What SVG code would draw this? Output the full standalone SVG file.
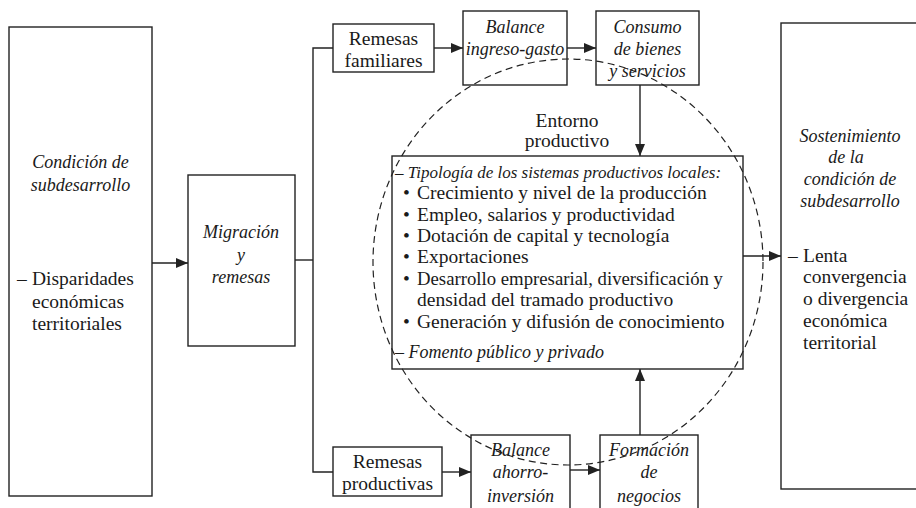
<svg xmlns="http://www.w3.org/2000/svg" width="916" height="508" viewBox="0 0 916 508">
<style>
.box{fill:#fff;stroke:#222;stroke-width:1.4}
text{font-family:'Liberation Serif','Times New Roman',serif;font-size:19.5px;fill:#1a1a1a}
.i{font-style:italic;font-size:18px}
.c{text-anchor:middle}
.ln{fill:none;stroke:#222;stroke-width:1.4}
.dash{fill:none;stroke:#222;stroke-width:1.2;stroke-dasharray:7 4.5}
</style>
<defs>
<marker id="ah" viewBox="0 0 12 10" refX="12" refY="5" markerWidth="12" markerHeight="10" markerUnits="userSpaceOnUse" orient="auto">
<path d="M0,0 L12,5 L0,10 Z" fill="#222"/>
</marker>
</defs>
<rect width="916" height="508" fill="#fff"/>

<g id="condicion">
<rect class="box" x="9" y="27" width="143" height="469"/>
<text class="i c" x="80.5" y="168">Condición de</text>
<text class="i c" x="80.5" y="191">subdesarrollo</text>
<text x="17" y="285">–</text>
<text x="32" y="285">Disparidades</text>
<text x="32" y="308">económicas</text>
<text x="32" y="330">territoriales</text>
</g>

<g id="migracion">
<rect class="box" x="188" y="175" width="107" height="171"/>
<text class="i c" x="241" y="238">Migración</text>
<text class="i c" x="241" y="261">y</text>
<text class="i c" x="241" y="283">remesas</text>
</g>

<g id="remesas-familiares">
<rect class="box" x="333" y="24" width="101" height="48"/>
<text class="c" x="383.5" y="45">Remesas</text>
<text class="c" x="383.5" y="67">familiares</text>
</g>

<g id="balance-ingreso">
<rect class="box" x="463" y="11" width="104" height="74"/>
<text class="i c" x="515" y="33">Balance</text>
<text class="i c" x="515" y="55">ingreso-gasto</text>
</g>

<g id="consumo">
<rect class="box" x="596" y="11" width="103" height="74"/>
<text class="i c" x="647.5" y="33">Consumo</text>
<text class="i c" x="647.5" y="55">de bienes</text>
<text class="i c" x="647.5" y="77">y servicios</text>
</g>

<g id="entorno">
<text class="c" x="567" y="127">Entorno</text>
<text class="c" x="567" y="147">productivo</text>
</g>

<g id="sistemas">
<rect class="box" x="392" y="156" width="351" height="213"/>
<text class="i" x="395" y="178" style="font-size:17px">– Tipología de los sistemas productivos locales:</text>
<text x="403" y="199">•</text><text x="417" y="199">Crecimiento y nivel de la producción</text>
<text x="403" y="220.5">•</text><text x="417" y="220.5">Empleo, salarios y productividad</text>
<text x="403" y="242">•</text><text x="417" y="242">Dotación de capital y tecnología</text>
<text x="403" y="263">•</text><text x="417" y="263">Exportaciones</text>
<text x="403" y="284.5">•</text><text x="417" y="284.5" textLength="306" lengthAdjust="spacingAndGlyphs">Desarrollo empresarial, diversificación y</text>
<text x="417" y="306">densidad del tramado productivo</text>
<text x="403" y="327.5">•</text><text x="417" y="327.5">Generación y difusión de conocimiento</text>
<text class="i" x="395" y="358">– Fomento público y privado</text>
</g>

<g id="sostenimiento">
<rect class="box" x="781" y="23" width="145" height="466"/>
<text class="i c" x="850" y="142">Sostenimiento</text>
<text class="i c" x="846" y="163">de la</text>
<text class="i c" x="850" y="185">condición de</text>
<text class="i c" x="850" y="207">subdesarrollo</text>
<text x="788" y="262">–</text>
<text x="803" y="262">Lenta</text>
<text x="803" y="283">convergencia</text>
<text x="803" y="305">o divergencia</text>
<text x="803" y="327">económica</text>
<text x="803" y="349">territorial</text>
</g>

<g id="remesas-productivas">
<rect class="box" x="333" y="447" width="109" height="49"/>
<text class="c" x="387.5" y="468">Remesas</text>
<text class="c" x="387.5" y="490">productivas</text>
</g>

<g id="balance-ahorro">
<rect class="box" x="471" y="435" width="99" height="90"/>
<text class="i c" x="520.5" y="456">Balance</text>
<text class="i c" x="520.5" y="478">ahorro-</text>
<text class="i c" x="520.5" y="502">inversión</text>
</g>

<g id="formacion">
<rect class="box" x="600" y="435" width="98" height="90"/>
<text class="i c" x="649" y="456">Formación</text>
<text class="i c" x="649" y="478">de</text>
<text class="i c" x="649" y="502">negocios</text>
</g>

<g id="connectors">
<line class="ln" x1="152" y1="263" x2="188" y2="263" marker-end="url(#ah)"/>
<polyline class="ln" points="295,260 313,260"/>
<polyline class="ln" points="333,48 313,48 313,472 333,472"/>
<line class="ln" x1="434" y1="48" x2="463" y2="48" marker-end="url(#ah)"/>
<line class="ln" x1="567" y1="48" x2="596" y2="48" marker-end="url(#ah)"/>
<line class="ln" x1="640" y1="85" x2="640" y2="156" marker-end="url(#ah)"/>
<line class="ln" x1="743" y1="256" x2="781" y2="256" marker-end="url(#ah)"/>
<line class="ln" x1="640" y1="435" x2="640" y2="369" marker-end="url(#ah)"/>
<line class="ln" x1="442" y1="472" x2="471" y2="472" marker-end="url(#ah)"/>
<line class="ln" x1="570" y1="470" x2="600" y2="470" marker-end="url(#ah)"/>
</g>

<g id="entorno-circulo">
<ellipse class="dash" cx="568" cy="262" rx="195" ry="203"/>
</g>
</svg>
